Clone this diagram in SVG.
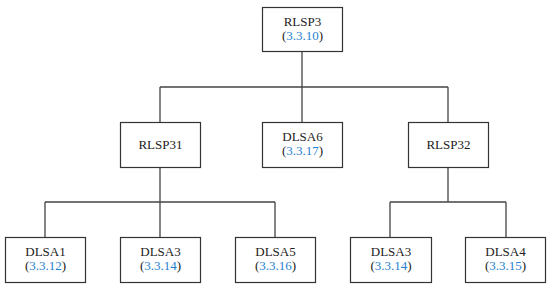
<svg xmlns="http://www.w3.org/2000/svg" width="550" height="288" viewBox="0 0 550 288">
<style>
.box{fill:#fff;stroke:#333;stroke-width:1.2}
.t{font-family:"Liberation Serif","DejaVu Serif",serif;font-size:13px;fill:#222;text-anchor:middle}
.ref{fill:#1f7fd0}
.c{fill:none;stroke:#444;stroke-width:1.3}
</style>
<rect width="550" height="288" fill="#fff"/>
<g id="connectors">
<path class="c" d="M302 51V87M160 87H448M160 87V122M302 87V122M448 87V122"/>
<path class="c" d="M160 167V202M45 202H275M45 202V237M160 202V237M275 202V237"/>
<path class="c" d="M448 167V202M390 202H506M390 202V237M506 202V237"/>
</g>
<g id="RLSP3"><rect class="box" x="262.5" y="7.5" width="80" height="44"/><text class="t" x="302.5" y="26">RLSP3</text><text class="t" x="302.5" y="40">(<tspan class="ref">3.3.10</tspan>)</text></g>
<g id="RLSP31"><rect class="box" x="120.5" y="122.5" width="80" height="45"/><text class="t" x="160.5" y="149">RLSP31</text></g>
<g id="DLSA6"><rect class="box" x="262.5" y="122.5" width="80" height="45"/><text class="t" x="302.5" y="141">DLSA6</text><text class="t" x="302.5" y="155">(<tspan class="ref">3.3.17</tspan>)</text></g>
<g id="RLSP32"><rect class="box" x="408.5" y="122.5" width="80" height="45"/><text class="t" x="448.5" y="149">RLSP32</text></g>
<g id="DLSA1"><rect class="box" x="5.5" y="237.5" width="80" height="45"/><text class="t" x="45.5" y="256">DLSA1</text><text class="t" x="45.5" y="270">(<tspan class="ref">3.3.12</tspan>)</text></g>
<g id="DLSA3a"><rect class="box" x="120.5" y="237.5" width="80" height="45"/><text class="t" x="160.5" y="256">DLSA3</text><text class="t" x="160.5" y="270">(<tspan class="ref">3.3.14</tspan>)</text></g>
<g id="DLSA5"><rect class="box" x="235.5" y="237.5" width="80" height="45"/><text class="t" x="275.5" y="256">DLSA5</text><text class="t" x="275.5" y="270">(<tspan class="ref">3.3.16</tspan>)</text></g>
<g id="DLSA3b"><rect class="box" x="350.5" y="237.5" width="81" height="45"/><text class="t" x="391" y="256">DLSA3</text><text class="t" x="391" y="270">(<tspan class="ref">3.3.14</tspan>)</text></g>
<g id="DLSA4"><rect class="box" x="465.5" y="237.5" width="80" height="45"/><text class="t" x="505.5" y="256">DLSA4</text><text class="t" x="505.5" y="270">(<tspan class="ref">3.3.15</tspan>)</text></g>
</svg>
